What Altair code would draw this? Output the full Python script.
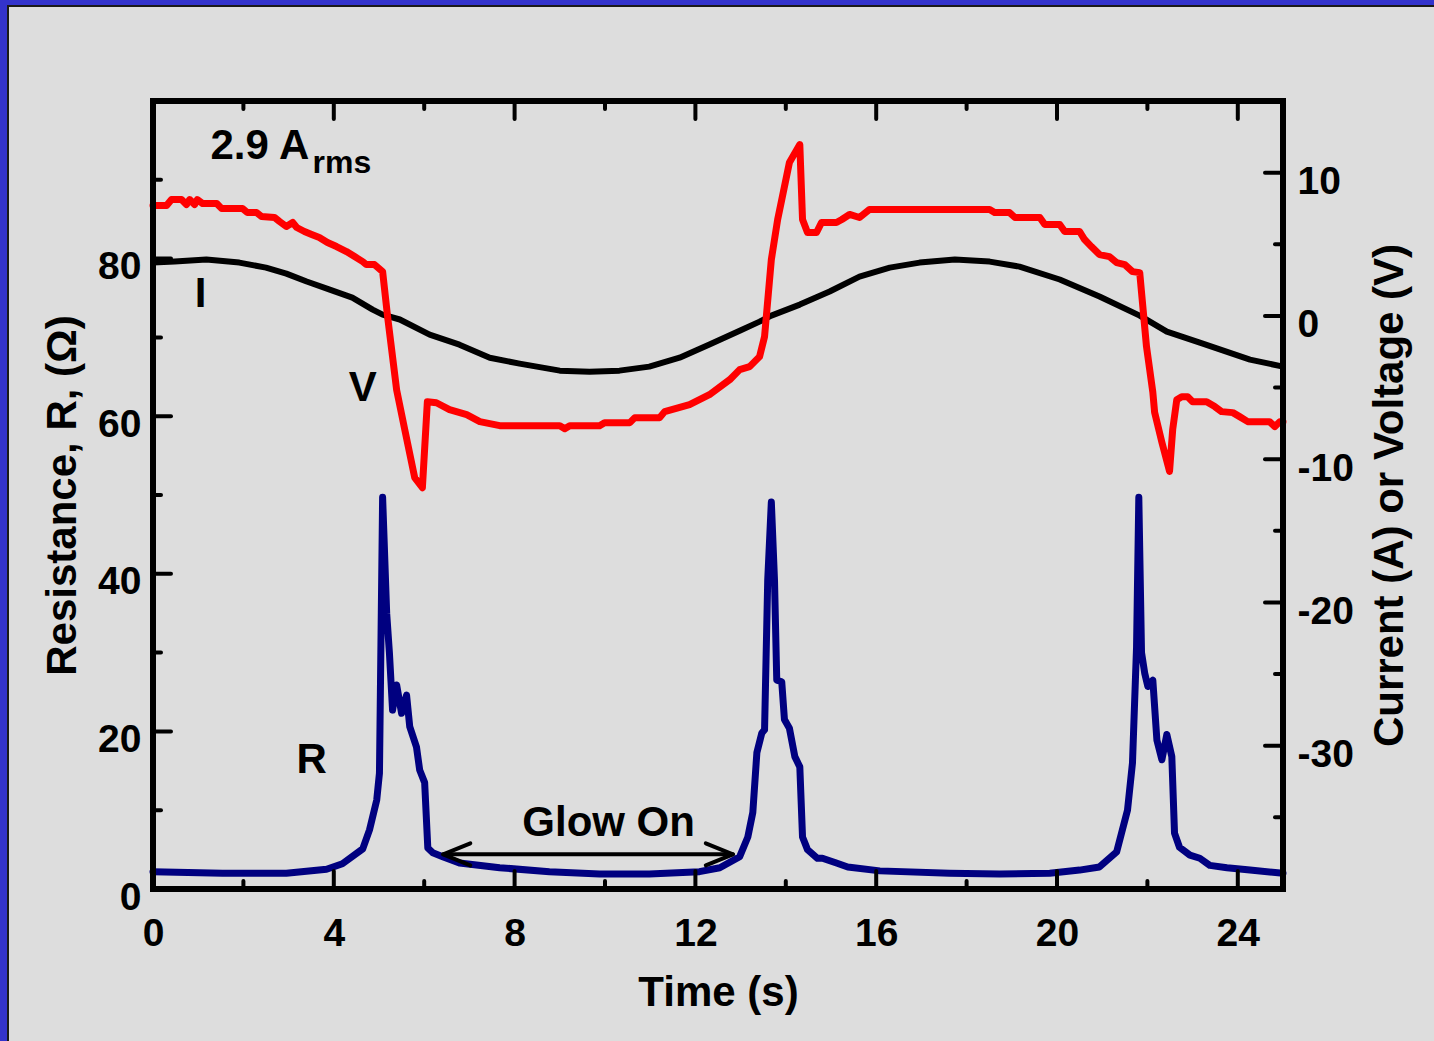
import altair as alt
import pandas as pd

# ---- measured traces -------------------------------------------------------
# Current I (A), right axis
t_I = [0.0, 0.48, 1.18, 1.91, 2.50, 2.95, 3.40, 3.91, 4.41, 4.86, 5.08, 5.46,
       6.12, 6.78, 7.45, 8.11, 9.00, 9.66, 10.32, 10.98, 11.65, 12.31, 12.98,
       13.42, 13.68, 14.31, 14.97, 15.63, 16.30, 16.96, 17.74, 18.51, 19.17,
       20.06, 20.94, 21.83, 22.43, 23.16, 24.27, 25.0]
I_amp = [3.72, 3.79, 3.93, 3.72, 3.37, 2.95, 2.40, 1.84, 1.28, 0.44, 0.09, -0.25,
         -1.31, -2.01, -2.92, -3.33, -3.82, -3.89, -3.82, -3.54, -2.92, -2.00, -1.03,
         -0.40, 0.02, 0.79, 1.70, 2.74, 3.37, 3.72, 3.93, 3.79, 3.44,
         2.54, 1.35, 0.02, -1.10, -1.87, -3.05, -3.54]

# Voltage V (V), right axis
t_V = [0.0, 0.30, 0.41, 0.63, 0.74, 0.81, 0.92, 0.98, 1.10, 1.41, 1.52, 1.98,
       2.09, 2.29, 2.40, 2.69, 2.80, 2.95, 3.09, 3.18, 3.35, 3.51, 3.68, 3.86,
       4.06, 4.28, 4.46, 4.64, 4.72, 4.90, 5.08, 5.19, 5.39, 5.57, 5.79, 5.96,
       6.07, 6.27, 6.56, 6.94, 7.23, 7.67, 9.00, 9.11, 9.22, 9.88, 9.99, 10.55,
       10.66, 11.21, 11.32, 11.87, 12.31, 12.76, 12.98, 13.20, 13.42, 13.53,
       13.68, 13.82, 14.08, 14.31, 14.37, 14.48, 14.68, 14.79, 15.12, 15.24,
       15.41, 15.63, 15.85, 18.51, 18.62, 18.95, 19.07, 19.62, 19.73, 20.06,
       20.17, 20.50, 20.61, 20.76, 20.94, 21.16, 21.32, 21.50, 21.67, 21.83,
       21.98, 22.12, 22.16, 22.32, 22.49, 22.56, 22.65, 22.76, 22.89, 23.00,
       23.31, 23.49, 23.64, 23.89, 24.04, 24.22, 24.70, 24.82, 24.93, 25.0]
V_volt = [7.70, 7.70, 8.12, 8.12, 7.77, 8.12, 7.77, 8.12, 7.84, 7.84, 7.49, 7.49,
          7.21, 7.21, 6.94, 6.87, 6.59, 6.24, 6.52, 6.17, 5.89, 5.68, 5.47, 5.12,
          4.84, 4.49, 4.14, 3.79, 3.58, 3.58, 3.09, -0.05, -5.16, -7.94, -11.29, -11.99,
          -5.99, -6.06, -6.54, -6.89, -7.38, -7.66, -7.66, -7.87, -7.66, -7.66, -7.45, -7.45,
          -7.10, -7.10, -6.68, -6.19, -5.50, -4.45, -3.75, -3.54, -2.84, -1.44,
          3.93, 6.73, 10.71, 11.96, 6.73, 5.82, 5.82, 6.52, 6.52, 6.73,
          7.08, 6.87, 7.42, 7.42, 7.21, 7.21, 6.87, 6.87, 6.38, 6.38,
          5.89, 5.89, 5.33, 4.84, 4.28, 4.14, 3.72, 3.58, 3.09, 3.02,
          -2.14, -5.33, -6.73, -8.82, -10.85, -7.92, -5.85, -5.64, -5.64, -5.99,
          -5.99, -6.33, -6.68, -6.75, -7.03, -7.38, -7.38, -7.73, -7.38, -7.38]

# Resistance R (ohm), left axis
t_R = [0.0, 1.54, 2.95, 3.84, 4.19, 4.64, 4.79, 4.95, 5.01, 5.08, 5.17, 5.23,
       5.30, 5.39, 5.50, 5.61, 5.68, 5.83, 5.90, 6.01, 6.08, 6.19, 6.41, 6.78,
       7.67, 8.77, 9.88, 10.98, 12.09, 12.54, 12.76, 12.98, 13.16, 13.27, 13.36,
       13.47, 13.53, 13.60, 13.68, 13.75, 13.80, 13.91, 13.97, 14.08, 14.20,
       14.31, 14.37, 14.48, 14.70, 14.81, 15.12, 15.37, 16.08, 17.62, 18.73,
       19.84, 20.50, 20.94, 21.32, 21.56, 21.67, 21.76, 21.81, 21.87, 21.94,
       22.01, 22.12, 22.21, 22.32, 22.43, 22.54, 22.60, 22.71, 22.94, 23.16,
       23.38, 23.76, 24.27, 25.0]
R_ohm = [2.2, 2.0, 2.0, 2.5, 3.2, 5.1, 7.5, 11.3, 14.7, 49.7, 35.0, 30.0,
         22.7, 25.9, 22.3, 24.6, 20.6, 18.0, 15.1, 13.5, 5.2, 4.6, 4.1, 3.3,
         2.7, 2.2, 1.9, 1.9, 2.2, 2.7, 3.4, 4.1, 6.6, 9.7, 17.3,
         19.8, 20.2, 39.2, 49.1, 39.2, 26.5, 26.3, 21.5, 20.4, 16.8,
         15.5, 6.6, 5.0, 3.9, 3.9, 3.3, 2.8, 2.3, 2.0, 1.9,
         2.0, 2.4, 2.8, 4.7, 10.0, 16.0, 30.7, 49.7, 30.0, 27.4,
         25.7, 26.5, 18.9, 16.4, 19.6, 16.8, 7.1, 5.3, 4.3, 3.9,
         3.0, 2.7, 2.4, 2.0]

# axis ticks
x_major = [0, 4, 8, 12, 16, 20, 24]
x_minor = [2, 6, 10, 14, 18, 22]
r_major = [20, 40, 60, 80]
r_minor = [10, 30, 50, 70, 90]
iv_major = [-30, -20, -10, 0, 10]
iv_minor = [-35, -25, -15, -5, 5]

# "Glow On" double arrow (time, ohm)
arrow_part = ["shaft", "shaft", "left", "left", "left", "right", "right", "right"]
arrow_t = [6.42, 12.83, 7.02, 6.42, 7.02, 12.23, 12.83, 12.23]
arrow_r = [4.4, 4.4, 5.8, 4.4, 3.0, 5.8, 4.4, 3.0]

# text annotations (time, ohm)
notes = ["I", "V", "R", "Glow On"]
note_t = [1.05, 4.64, 3.51, 10.08]
note_r = [73.9, 61.9, 14.7, 6.7]

# ---- layout ----------------------------------------------------------------
W, H = 1130, 788
FONT = "Liberation Sans"
GRAY = "#dddddd"
PLAIN_MINUS = "toString(datum.value)"

x_scale = alt.Scale(domain=[0, 25], nice=False, zero=False)
r_scale = alt.Scale(domain=[0, 100], nice=False, zero=False)
iv_scale = alt.Scale(domain=[-40, 15], nice=False, zero=False)

x_axis = alt.Axis(values=x_major, title="Time (s)", domain=False, ticks=False, tickSize=0,
                  grid=False, labelFont=FONT, labelFontSize=39, labelFontWeight="bold",
                  labelColor="black", labelPadding=25, labelFlush=False,
                  titleFont=FONT, titleFontSize=42, titleFontWeight="bold", titleColor="black",
                  titleX=W / 2, titleY=116, titleAlign="center", titleBaseline="alphabetic",
                  zindex=1)


def xenc(field):
    return alt.X(f"{field}:Q", scale=x_scale, axis=x_axis)


one = pd.DataFrame({"k": [0]})

# page background with its dark border line
bg = alt.Chart(one).mark_rect(fill=GRAY, stroke="#1a1a1a", strokeWidth=2).encode(
    x=alt.value(-145), x2=alt.value(W + 200), y=alt.value(-95), y2=alt.value(H + 200))

r_df = pd.DataFrame({"t": t_R, "R": R_ohm})
r_line = alt.Chart(r_df).mark_line(color="#000080", strokeWidth=7, strokeJoin="round",
                                   strokeCap="round").encode(
    x=xenc("t"),
    y=alt.Y("R:Q", scale=r_scale,
            axis=alt.Axis(orient="left", values=[0, 20, 40, 60, 80], title="Resistance, R, (Ω)",
                          domain=False, ticks=False, tickSize=0, grid=False,
                          labelFont=FONT, labelFontSize=39, labelFontWeight="bold",
                          labelColor="black", labelPadding=12, labelOffset=8, labelFlush=False,
                          titleFont=FONT, titleFontSize=42, titleFontWeight="bold",
                          titleColor="black", titleAngle=270, titleX=-78, titleY=H / 2,
                          titleAlign="center", titleBaseline="alphabetic", zindex=1)),
)

iv_df = pd.concat([
    pd.DataFrame({"t": t_I, "val": I_amp, "series": "I"}),
    pd.DataFrame({"t": t_V, "val": V_volt, "series": "V"}),
])
iv_lines = alt.Chart(iv_df).mark_line(strokeJoin="round", strokeCap="round").encode(
    x=xenc("t"),
    y=alt.Y("val:Q", scale=iv_scale,
            axis=alt.Axis(orient="right", values=iv_major, title="Current (A) or Voltage (V)",
                          labelExpr=PLAIN_MINUS,
                          domain=False, ticks=False, tickSize=0, grid=False,
                          labelFont=FONT, labelFontSize=39, labelFontWeight="bold",
                          labelColor="black", labelPadding=14, labelOffset=9, labelFlush=False,
                          titleFont=FONT, titleFontSize=42, titleFontWeight="bold",
                          titleColor="black", titleAngle=270, titleX=119, titleY=H / 2,
                          titleAlign="center", titleBaseline="alphabetic", zindex=1)),
    color=alt.Color("series:N", scale=alt.Scale(domain=["I", "V"], range=["black", "#ff0000"]),
                    legend=None),
    strokeWidth=alt.StrokeWidth("series:N", scale=alt.Scale(domain=["I", "V"], range=[6, 7]),
                                legend=None),
)

arrow_df = pd.DataFrame({"part": arrow_part, "t": arrow_t, "R": arrow_r,
                         "i": list(range(len(arrow_t)))})
arrow = alt.Chart(arrow_df).mark_line(color="black", strokeWidth=4, strokeCap="round",
                                      strokeJoin="round").encode(
    x=xenc("t"), y=alt.Y("R:Q", scale=r_scale, axis=None), detail="part:N", order="i:Q")

notes_df = pd.DataFrame({"label": notes, "t": note_t, "R": note_r})
note_text = alt.Chart(notes_df).mark_text(font=FONT, fontSize=42, fontWeight="bold",
                                          color="black", align="center",
                                          baseline="alphabetic").encode(
    x=xenc("t"), y=alt.Y("R:Q", scale=r_scale, axis=None), text="label:N")

cur_df = pd.DataFrame({"label": ["2.9 A", "rms"], "t": [1.27, 3.53], "R": [92.7, 90.9],
                       "size": [42, 32]})
cur_text = alt.Chart(cur_df).mark_text(font=FONT, fontWeight="bold", color="black",
                                       align="left", baseline="alphabetic").encode(
    x=xenc("t"), y=alt.Y("R:Q", scale=r_scale, axis=None), text="label:N",
    size=alt.Size("size:Q", scale=None, legend=None))


def hticks(values, length, top):
    y0 = 0 if top else H
    y1 = length if top else H - length
    return alt.Chart(pd.DataFrame({"t": values})).mark_rule(
        color="black", strokeWidth=4, strokeCap="round").encode(
        x=xenc("t"), y=alt.value(y0), y2=alt.value(y1))


def vticks(values, length, scale, right):
    x0 = W if right else 0
    x1 = W - length if right else length
    return alt.Chart(pd.DataFrame({"v": values})).mark_rule(
        color="black", strokeWidth=4, strokeCap="round").encode(
        y=alt.Y("v:Q", scale=scale, axis=None), x=alt.value(x0), x2=alt.value(x1))


ticks = [
    hticks(x_major, 18, False), hticks(x_minor, 8, False),
    hticks(x_major, 18, True), hticks(x_minor, 8, True),
    vticks(r_major, 18, r_scale, False), vticks(r_minor, 8, r_scale, False),
    vticks(iv_major, 18, iv_scale, True), vticks(iv_minor, 8, iv_scale, True),
]

frame = alt.Chart(one).mark_rect(fillOpacity=0, stroke="black", strokeWidth=6).encode(
    x=alt.value(0), x2=alt.value(W), y=alt.value(0), y2=alt.value(H))

chart = alt.layer(
    bg, r_line, iv_lines, arrow, note_text, cur_text, *ticks, frame
).resolve_scale(y="independent").properties(
    width=W, height=H,
    autosize=alt.AutoSizeParams(type="none"),
    padding={"left": 153, "top": 101, "right": 151, "bottom": 152},
    background="#3333cc",
).configure_view(stroke=None)

chart.save("out.html", embed_options={"renderer": "svg", "actions": False})
